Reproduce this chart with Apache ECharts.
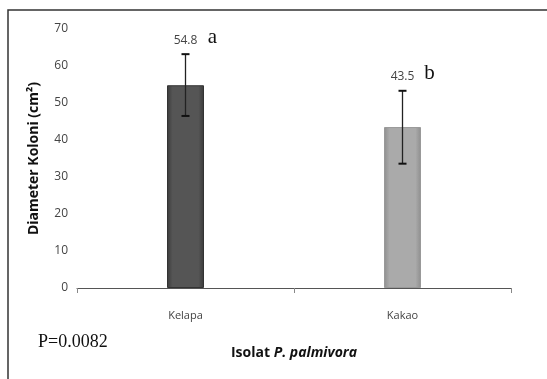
<!DOCTYPE html>
<html><head><meta charset="utf-8">
<script src="https://cdn.jsdelivr.net/npm/echarts@6/dist/echarts.min.js"></script>
<style>html,body{margin:0;padding:0;background:#fff}#c{width:547px;height:379px}</style>
</head><body><div id="c"></div>
<script>
const categories = ['Kelapa', 'Kakao'];
const means = [54.8, 43.5];
const meanLabels = ['54.8', '43.5'];
const errLow = [46.5, 33.6];
const errHigh = [63.2, 53.3];
const groupLetters = ['a', 'b'];
const yTicks = [0, 10, 20, 30, 40, 50, 60, 70];

const barColors = [
  {type:'linear',x:0,y:0,x2:1,y2:0,colorStops:[{offset:0,color:'#3a3a3a'},{offset:0.15,color:'#555'},{offset:0.85,color:'#555'},{offset:1,color:'#3a3a3a'}]},
  {type:'linear',x:0,y:0,x2:1,y2:0,colorStops:[{offset:0,color:'#8e8e8e'},{offset:0.15,color:'#aaa'},{offset:0.85,color:'#aaa'},{offset:1,color:'#8e8e8e'}]}
];

const chart = echarts.init(document.getElementById('c'));
chart.setOption({
  animation: false,
  grid: {left: 77, right: 36, top: 29, bottom: 91},
  xAxis: {
    type: 'category', data: categories,
    axisLine: {lineStyle: {color: '#555', width: 1}},
    axisTick: {show: true, length: 5, lineStyle: {color: '#888'}},
    axisLabel: {color: '#444', fontSize: 11, fontFamily: 'Open Sans', margin: 22},
    name: '{b|Isolat }{i|P. palmivora}',
    nameLocation: 'middle', nameGap: 58,
    nameTextStyle: {rich: {
      b: {fontFamily: 'Open Sans', fontSize: 14, fontWeight: 'bold', color: '#111'},
      i: {fontFamily: 'Open Sans', fontSize: 14, fontWeight: 'bold', fontStyle: 'italic', color: '#111'}
    }}
  },
  yAxis: {
    type: 'value', min: 0, max: 70, interval: 10,
    splitLine: {show: false},
    axisLine: {show: false},
    axisTick: {show: false},
    axisLabel: {color: '#444', fontSize: 12, fontFamily: 'Open Sans', margin: 9,
      formatter: v => yTicks.includes(v) ? String(v) : ''},
    name: 'Diameter Koloni (cm²)', nameLocation: 'middle', nameGap: 36,
    nameTextStyle: {fontFamily: 'Open Sans', fontSize: 14, fontWeight: 'bold', color: '#111'}
  },
  series: [
    {
      type: 'bar', barWidth: 37,
      data: means.map((v, i) => ({value: v, itemStyle: {color: barColors[i], borderColor: i ? '#999' : '#333', borderWidth: 1}}))
    },
    {
      type: 'custom',
      data: categories.map((c, i) => [i, errLow[i], errHigh[i]]),
      renderItem: function (params, api) {
        const i = api.value(0);
        const lo = api.coord([i, api.value(1)]);
        const hi = api.coord([i, api.value(2)]);
        const cap = 4;
        const st = {stroke: '#222', lineWidth: 1.3};
        return {type: 'group', children: [
          {type: 'line', shape: {x1: hi[0], y1: hi[1], x2: lo[0], y2: lo[1]}, style: st},
          {type: 'line', shape: {x1: hi[0]-cap, y1: hi[1], x2: hi[0]+cap, y2: hi[1]}, style: {stroke: '#111', lineWidth: 2}},
          {type: 'line', shape: {x1: lo[0]-cap, y1: lo[1], x2: lo[0]+cap, y2: lo[1]}, style: {stroke: '#111', lineWidth: 2}},
          {type: 'text', style: {x: hi[0], y: hi[1] - 14, text: meanLabels[i], fill: '#444', font: '12px "Open Sans"', align: 'center', verticalAlign: 'middle'}},
          {type: 'text', style: {x: hi[0] + 27, y: hi[1] - 17, text: groupLetters[i], fill: '#111', font: '21px "Liberation Serif"', align: 'center', verticalAlign: 'middle'}}
        ]};
      },
      z: 5
    }
  ],
  graphic: [
    {type: 'rect', shape: {x: 8, y: 10, width: 600, height: 420}, style: {fill: 'none', stroke: '#333', lineWidth: 1.5}, silent: true},
    {type: 'text', left: 38, top: 333, style: {text: 'P=0.0082', fill: '#111', font: '18px "Liberation Serif"'}}
  ]
});
</script></body></html>
